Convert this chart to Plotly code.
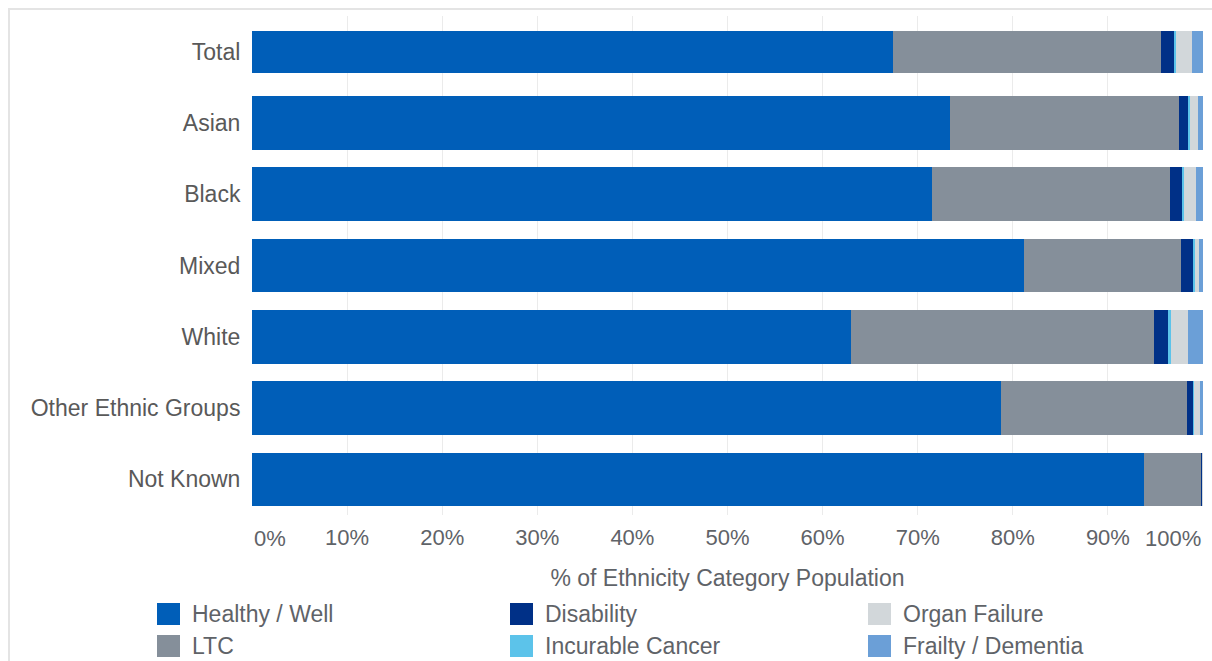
import plotly.graph_objects as go

categories = ["Total", "Asian", "Black", "Mixed", "White", "Other Ethnic Groups", "Not Known"]
series_names = ["Healthy / Well", "LTC", "Disability", "Incurable Cancer", "Organ Failure", "Frailty / Dementia"]

healthy = [67.4, 73.4, 71.5, 81.2, 63.0, 78.8, 93.8]
ltc = [28.2, 24.1, 25.0, 16.5, 31.8, 19.5, 6.0]
disability = [1.4, 1.0, 1.3, 1.2, 1.6, 0.7, 0.1]
cancer = [0.2, 0.1, 0.2, 0.3, 0.2, 0.1, 0.0]
organ = [1.6, 0.9, 1.3, 0.4, 1.8, 0.6, 0.1]
frailty = [1.2, 0.5, 0.7, 0.4, 1.6, 0.3, 0.0]

tick_vals = [0, 10, 20, 30, 40, 50, 60, 70, 80, 90, 100]
tick_labels = ["0%", "10%", "20%", "30%", "40%", "50%", "60%", "70%", "80%", "90%", "100%"]

series_values = [healthy, ltc, disability, cancer, organ, frailty]
colors = ["#005EB8", "#858F9A", "#003087", "#5CC3EA", "#D2D7DA", "#6B9FD7"]

W, H = 1212, 661
L, R, T, B = 252, 9, 16, 146
PW, PH = W - L - R, H - T - B

def px_x(x):
    return (x - L) / PW

def px_y(y):
    return (H - B - y) / PH

FONT = "Liberation Sans, Arial, sans-serif"
TXT = "#5f6368"

widths = [0.59 if c == "Total" else 0.75 for c in categories]

fig = go.Figure()
for name, vals, col in zip(series_names, series_values, colors):
    fig.add_trace(go.Bar(
        y=categories, x=vals, name=name, orientation="h",
        marker=dict(color=col, line=dict(width=0)),
        width=widths, showlegend=False,
        hovertemplate="%{y}: %{x:.1f}%<extra>" + name + "</extra>",
    ))

annotations = []
shapes = []

# end tick labels kept inside the plot, like the original
annotations.append(dict(x=0, y=px_y(538), xref="x", yref="paper", text=tick_labels[0],
                        showarrow=False, xanchor="left", yanchor="middle",
                        font=dict(family=FONT, size=22, color=TXT)))
annotations.append(dict(x=100, y=px_y(538), xref="x", yref="paper", text=tick_labels[-1],
                        showarrow=False, xanchor="right", yanchor="middle",
                        font=dict(family=FONT, size=22, color=TXT)))

# legend: 3 columns, filled column-wise
col_x = [157, 510, 868]
row_y = [614, 646]
for i, (name, col) in enumerate(zip(series_names, colors)):
    c, r = i // 2, i % 2
    x0, yc = col_x[c], row_y[r]
    shapes.append(dict(type="rect", xref="paper", yref="paper",
                       x0=px_x(x0), x1=px_x(x0 + 23), y0=px_y(yc + 11), y1=px_y(yc - 11),
                       fillcolor=col, line=dict(width=0)))
    annotations.append(dict(x=px_x(x0 + 33), y=px_y(yc), xref="paper", yref="paper",
                            text=name, showarrow=False, xanchor="left", yanchor="middle",
                            font=dict(family=FONT, size=23, color=TXT)))

# outer frame
shapes.append(dict(type="rect", xref="paper", yref="paper",
                   x0=px_x(9), x1=px_x(1230), y0=px_y(700), y1=px_y(9),
                   line=dict(color="#E4E4E4", width=2), fillcolor="rgba(0,0,0,0)", layer="below"))

ticktext = [""] + tick_labels[1:-1] + [""]

fig.update_layout(
    width=W, height=H,
    barmode="stack",
    bargap=0.25,
    margin=dict(l=L, r=R, t=T, b=B),
    paper_bgcolor="white", plot_bgcolor="white",
    font=dict(family=FONT, color=TXT),
    xaxis=dict(
        range=[0, 100], tickvals=tick_vals, ticktext=ticktext,
        showgrid=True, gridcolor="#EBEBEB", gridwidth=1,
        zeroline=False, showline=False,
        ticks="outside", ticklen=3, tickcolor="rgba(0,0,0,0)",
        tickfont=dict(family=FONT, size=22, color=TXT),
        title=dict(text="% of Ethnicity Category Population",
                   font=dict(family=FONT, size=23, color=TXT), standoff=20),
        fixedrange=True,
    ),
    yaxis=dict(
        categoryorder="array", categoryarray=categories, autorange="reversed",
        showgrid=False, zeroline=False, showline=False,
        ticks="outside", ticklen=6, tickcolor="rgba(0,0,0,0)",
        tickfont=dict(family=FONT, size=23, color="#595959"),
        fixedrange=True,
    ),
    shapes=shapes,
    annotations=annotations,
    showlegend=False,
)

fig.write_html(
    "out.html",
    config={"displayModeBar": False},
    post_script="document.body.style.margin='0';document.body.style.overflow='hidden';",
)
